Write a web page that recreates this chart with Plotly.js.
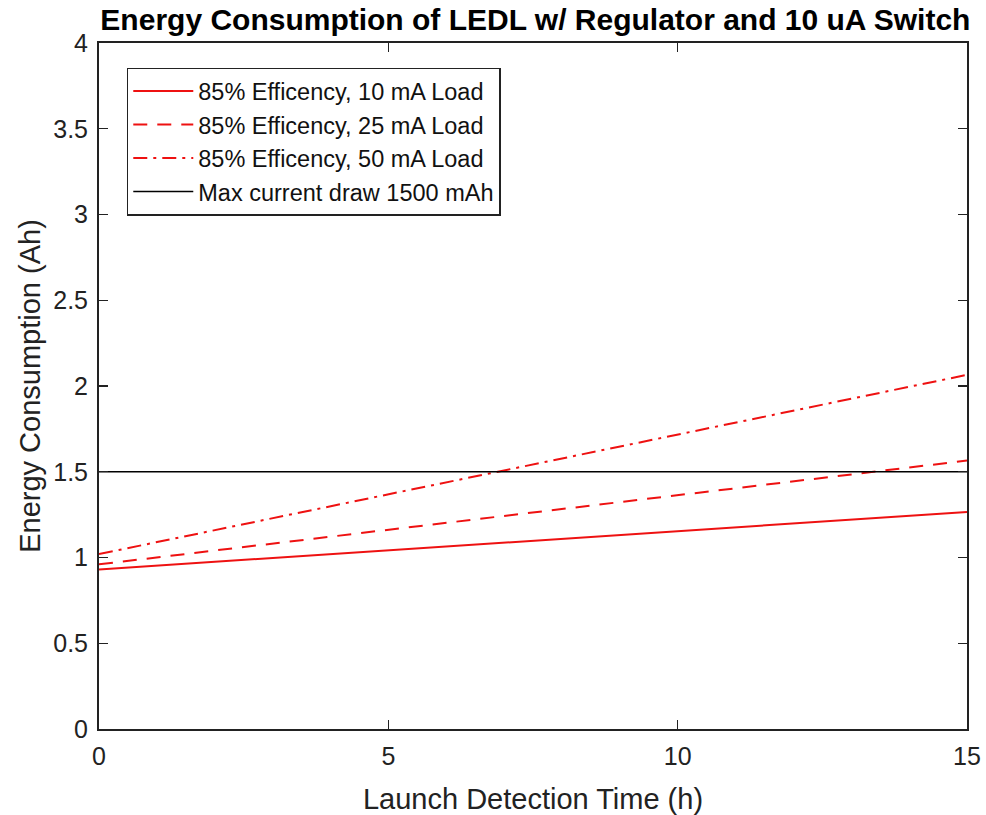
<!DOCTYPE html>
<html>
<head>
<meta charset="utf-8">
<script src="https://cdn.plot.ly/plotly-3.0.1.min.js"></script>
<style>html,body{margin:0;padding:0;background:#fff;}#chart{width:986px;height:815px;}</style>
</head>
<body>
<div id="chart"></div>
<script>
const time_h = [0, 15];
const load10mA = [0.93, 1.265];
const load25mA = [0.96, 1.565];
const load50mA = [1.02, 2.065];
const maxDraw = [1.5, 1.5];
const seriesNames = ["85% Efficency, 10 mA Load", "85% Efficency, 25 mA Load", "85% Efficency, 50 mA Load", "Max current draw 1500 mAh"];
const xTicks = [0, 5, 10, 15];
const yTicks = [0, 0.5, 1, 1.5, 2, 2.5, 3, 3.5, 4];

const red = '#ee1111';
const traces = [
  {x: time_h, y: load10mA, name: seriesNames[0], mode: 'lines', line: {color: red, width: 2, dash: 'solid'}},
  {x: time_h, y: load25mA, name: seriesNames[1], mode: 'lines', line: {color: red, width: 2, dash: '14px,10px'}},
  {x: time_h, y: load50mA, name: seriesNames[2], mode: 'lines', line: {color: red, width: 2, dash: '14px,6px,3px,6px'}},
  {x: time_h, y: maxDraw, name: seriesNames[3], mode: 'lines', line: {color: '#000', width: 1.5}}
];

const font = {family: 'Liberation Sans, Arial, sans-serif', color: '#222'};
const layout = {
  width: 986, height: 815,
  margin: {l: 99, r: 19, t: 43, b: 86},
  paper_bgcolor: '#fff', plot_bgcolor: '#fff',
  font: font,
  title: {text: '<b>Energy Consumption of LEDL w/ Regulator and 10 uA Switch</b>', font: {family: font.family, size: 30, color: '#000'}, x: 0.543, xanchor: 'center', y: 0.976, yanchor: 'middle'},
  xaxis: {
    range: [0, 15], tickvals: xTicks, ticks: 'inside', ticklen: 9, tickwidth: 1.2, tickcolor: '#222',
    showline: true, linecolor: '#222', linewidth: 2, mirror: 'ticks', showgrid: false, zeroline: false,
    tickfont: {size: 25, color: '#222'}, ticklabelstandoff: 4,
    title: {text: 'Launch Detection Time (h)', font: {size: 29, color: '#222'}}
  },
  yaxis: {
    range: [0, 4], tickvals: yTicks, ticks: 'inside', ticklen: 9, tickwidth: 1.2, tickcolor: '#222',
    showline: true, linecolor: '#222', linewidth: 2, mirror: 'ticks', showgrid: false, zeroline: false,
    tickfont: {size: 25, color: '#222'}, ticklabelstandoff: 4,
    title: {text: 'Energy Consumption (Ah)', font: {size: 29, color: '#222'}, standoff: 4}
  },
  legend: {x: 0.032, y: 0.964, xanchor: 'left', yanchor: 'top', bgcolor: '#fff', bordercolor: '#222', borderwidth: 1.5,
    font: {size: 23.5, color: '#111'}, tracegroupgap: 0, itemwidth: 60},
  showlegend: true
};
Plotly.newPlot('chart', traces, layout, {displayModeBar: false, staticPlot: true});
</script>
</body>
</html>
